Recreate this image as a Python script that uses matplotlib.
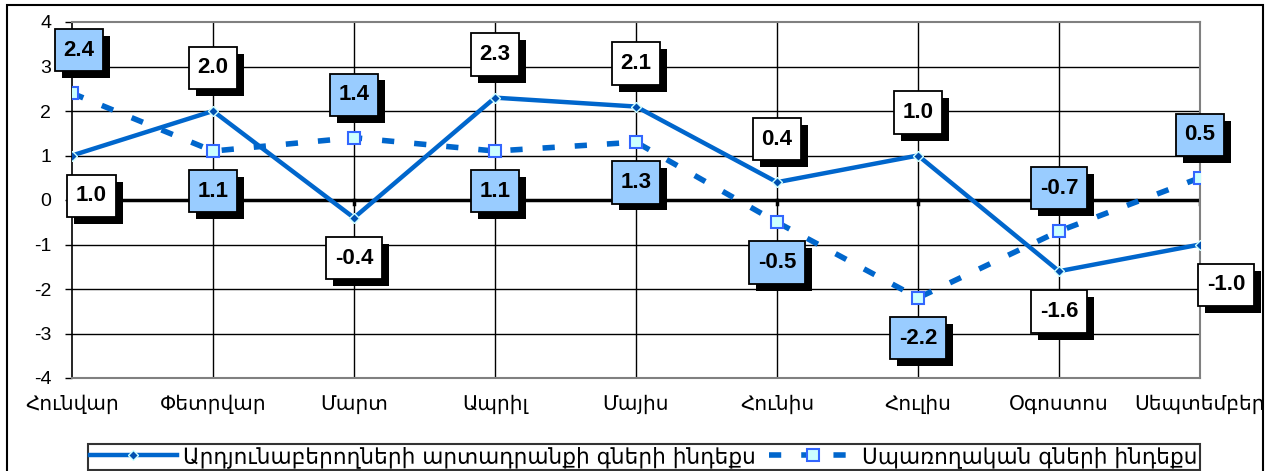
import matplotlib
matplotlib.use("Agg")
import matplotlib.pyplot as plt
import matplotlib.patheffects as pe
from matplotlib.patches import Rectangle
from matplotlib.path import Path

# ---------------------------------------------------------------- data
months = ["Հունվար", "Փետրվար", "Մարտ", "Ապրիլ", "Մայիս",
          "Հունիս", "Հուլիս", "Օգոստոս", "Սեպտեմբեր"]
ppi = [1.0, 2.0, -0.4, 2.3, 2.1, 0.4, 1.0, -1.6, -1.0]
cpi = [2.4, 1.1, 1.4, 1.1, 1.3, -0.5, -2.2, -0.7, 0.5]
ppi_label = "Արդյունաբերողների արտադրանքի գների ինդեքս"
cpi_label = "Սպառողական գների ինդեքս"

# label placement (Excel-style: above / below / right of the point)
ppi_pos = ["below", "above", "below", "above", "above", "above", "above", "below", "right"]
cpi_pos = ["above", "below", "above", "below", "below", "below", "below", "above", "above"]

BLUE = "#0066CC"
FONT = ["Liberation Sans", "DejaVu Sans"]
plt.rcParams["font.family"] = FONT


def label_box(x0, y0, width, height, mutation_size):
    """Excel-like data label box: fixed height, modest side padding."""
    padx = 0.4 * mutation_size
    h = 1.9 * mutation_size
    cy = y0 + height / 2
    l, r = x0 - padx, x0 + width + padx
    b, t = cy - h / 2, cy + h / 2
    return Path([(l, b), (r, b), (r, t), (l, t), (l, b)],
                [Path.MOVETO, Path.LINETO, Path.LINETO, Path.LINETO, Path.CLOSEPOLY])


fig = plt.figure(figsize=(12.72, 4.71), dpi=100)
ax = fig.add_axes([72 / 1272, 1 - 378 / 471, 1128 / 1272, 356 / 471])

x = list(range(len(months)))
ax.plot(x, ppi, color=BLUE, lw=3.2, marker="D", ms=5,
        mfc="#0050B0", mec="#CCFFFF", mew=1.0, label=ppi_label, zorder=4)
ax.plot(x, cpi, color=BLUE, lw=4, ls=(0, (2.2, 3.6)), marker="s", ms=9,
        mfc="#CCFFFF", mec="#3366FF", mew=1.5, label=cpi_label, zorder=4)

ax.set_xlim(0, 8)
ax.set_ylim(-4, 4)
ax.set_yticks(range(-4, 5))
ax.set_yticklabels([str(v) for v in range(-4, 5)], fontsize=14)
ax.set_xticks(x)
ax.set_xticklabels(months, fontsize=14.5, family=["DejaVu Sans"])
ax.tick_params(axis="x", length=0, pad=12)
ax.tick_params(axis="y", length=5, width=1, color="black", pad=10)

for v in range(-3, 4):
    ax.axhline(v, color="black", lw=1.0, zorder=1)
for xi in x[1:-1]:
    ax.axvline(xi, color="black", lw=1.0, zorder=1)
ax.axhline(0, color="black", lw=2.5, zorder=2)
for xi in x:
    ax.plot([xi, xi], [0, -0.1], color="black", lw=2.5, zorder=2)

for side in ["top", "right", "bottom"]:
    ax.spines[side].set_color("#808080")
    ax.spines[side].set_linewidth(1.5)
ax.spines["left"].set_color("black")
ax.spines["left"].set_linewidth(1.2)

offsets = {"above": (0, 31), "below": (0, -29), "right": (19, -29)}


def put_labels(vals, pos, face, first_shift):
    for xi, v, p in zip(x, vals, pos):
        dx, dy = offsets[p]
        if xi == 0:
            dx += first_shift
        t = ax.annotate(f"{v:.1f}", xy=(xi, v), xytext=(dx, dy),
                        textcoords="offset points", ha="center", va="center",
                        fontsize=16, fontweight="bold", zorder=6,
                        bbox=dict(boxstyle=label_box, fc=face,
                                  ec="black", lw=1.3))
        t.get_bbox_patch().set_path_effects([
            pe.SimplePatchShadow(offset=(5, -5), shadow_rgbFace="black", alpha=1.0),
            pe.Normal()])


put_labels(ppi, ppi_pos, "white", 14)
put_labels(cpi, cpi_pos, "#99CCFF", 5)

leg = fig.legend(loc="lower center", bbox_to_anchor=(644 / 1272, 1 / 471),
                 ncol=2, frameon=True, fancybox=False,
                 prop={"family": ["DejaVu Sans"], "size": 15.6},
                 handlelength=4, borderpad=0.1, borderaxespad=0,
                 handletextpad=0.3, columnspacing=0.6)
leg.get_frame().set_edgecolor("black")
leg.get_frame().set_linewidth(1.5)

fig.patches.append(Rectangle((7 / 1272, -0.05), 1256 / 1272, 1.05 - 5 / 471,
                             transform=fig.transFigure, fill=False,
                             ec="black", lw=1.5, clip_on=False))

fig.savefig("out.png", dpi=100)
